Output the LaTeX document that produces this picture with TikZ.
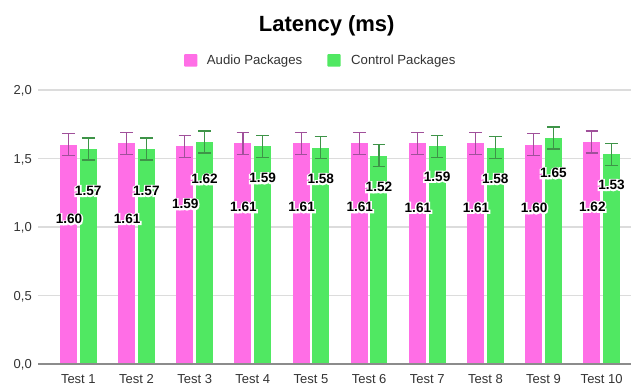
\documentclass[tikz,border=0pt]{standalone}
\usepackage{fontspec}
\setmainfont{Liberation Sans}
% stroked copy of the bold face, used as the white outline of value labels
\newfontface\haloface[FakeBold=22]{Liberation Sans Bold}
\usetikzlibrary{calc}

\definecolor{audio}{HTML}{FF6EE6}
\definecolor{control}{HTML}{50E862}
\definecolor{audioerr}{HTML}{A0509A}
\definecolor{controlerr}{HTML}{3E9448}
\definecolor{gridgray}{HTML}{DCDCDC}
\definecolor{axisgray}{HTML}{8C8C8C}
\definecolor{labelink}{HTML}{333333}

\tikzset{
  gridline/.style={draw=gridgray, line width=1.1pt},
  axisline/.style={draw=axisgray, line width=2pt},
  ticklabel/.style={inner sep=0, text=labelink, font=\fontsize{13}{15}\selectfont},
  catlabel/.style={inner sep=0, text=labelink, font=\fontsize{13}{15}\selectfont, anchor=base},
  legendtext/.style={inner sep=0, text=labelink, font=\fontsize{13.2}{15}\selectfont, anchor=base west},
  charttitle/.style={inner sep=0, text=black, font=\fontsize{22}{26}\selectfont\bfseries, anchor=base},
  vlabel/.style={inner sep=0, text=black, font=\fontsize{13.6}{15}\selectfont\bfseries},
  vhalo/.style={inner sep=0, text=white, font=\fontsize{13.6}{15}\selectfont\haloface},
  errA/.style={draw=audioerr, line width=1.2pt},
  errC/.style={draw=controlerr, line width=1.2pt},
}

% value label with a white outline
\newcommand\halolabel[3]{%
  \node[vhalo] at (#2) {#3};
  \node[vlabel] (#1) at (#2) {#3};}

\begin{document}
\begin{tikzpicture}[x=1pt, y=-1pt]
\useasboundingbox (0,0) rectangle (638,386);
\fill[white] (0,0) rectangle (638,386);

% title
\node[charttitle] (title) at (326.7,31.7) {Latency (ms)};

% legend
\fill[audio, rounded corners=1pt] (184,54) rectangle (197.3,66.7);
\node[legendtext] (legA) at (206.7,64.3) {Audio Packages};
\fill[control, rounded corners=1pt] (327.3,54) rectangle (340.7,66.7);
\node[legendtext] (legC) at (351,64.3) {Control Packages};

% horizontal gridlines and value axis labels
\foreach \v/\t in {0.5/{0,5}, 1/{1,0}, 1.5/{1,5}, 2/{2,0}} {
  \draw[gridline] (38,{364-137*\v}) -- (631,{364-137*\v});
  \node[ticklabel, anchor=base east] at (32,{368.6-137*\v}) {\t};
}
\node[ticklabel, anchor=base east] (zero) at (32,368.6) {0,0};

% bars, error bars and category labels
\foreach \i/\a/\c in {1/1.60/1.57, 2/1.61/1.57, 3/1.59/1.62, 4/1.61/1.59,
                      5/1.61/1.58, 6/1.61/1.52, 7/1.61/1.59, 8/1.61/1.58,
                      9/1.60/1.65, 10/1.62/1.53} {
  \pgfmathsetmacro\xa{60+58.15*(\i-1)}
  \pgfmathsetmacro\xc{\xa+19.7}
  \pgfmathsetmacro\ya{364-137*\a}
  \pgfmathsetmacro\yc{364-137*\c}
  \fill[audio] (\xa,364) rectangle ({\xa+17},\ya);
  \fill[control] (\xc,364) rectangle ({\xc+17},\yc);
  \draw[errA] ({\xa+8.5},{\ya-11}) -- ({\xa+8.5},{\ya+11})
              ({\xa+2.2},{\ya-11}) -- ({\xa+14.8},{\ya-11})
              ({\xa+2.2},{\ya+11}) -- ({\xa+14.8},{\ya+11});
  \draw[errC] ({\xc+8.5},{\yc-11}) -- ({\xc+8.5},{\yc+11})
              ({\xc+2.2},{\yc-11}) -- ({\xc+14.8},{\yc-11})
              ({\xc+2.2},{\yc+11}) -- ({\xc+14.8},{\yc+11});
  \node[catlabel] (cat\i) at ({\xa+18.35},383) {Test \i};
}

% category axis
\draw[axisline] (38,364) -- (631,364);

% value labels
\foreach \i/\a/\c/\la/\lc in {1/1.60/1.57/219.3/191, 2/1.61/1.57/219/191,
                              3/1.59/1.62/204.3/179.3, 4/1.61/1.59/207.3/178.3,
                              5/1.61/1.58/207.3/179, 6/1.61/1.52/207.3/187.3,
                              7/1.61/1.59/207.7/176.7, 8/1.61/1.58/207.7/179,
                              9/1.60/1.65/208.3/173.3, 10/1.62/1.53/206.7/185} {
  \pgfmathsetmacro\xa{60+58.15*(\i-1)}
  \coordinate (pa\i) at ({\xa+9},\la);
  \coordinate (pc\i) at ({\xa+28.2},\lc);
  \halolabel{va\i}{pa\i}{\a}
  \halolabel{vc\i}{pc\i}{\c}
}
\end{tikzpicture}
\end{document}
